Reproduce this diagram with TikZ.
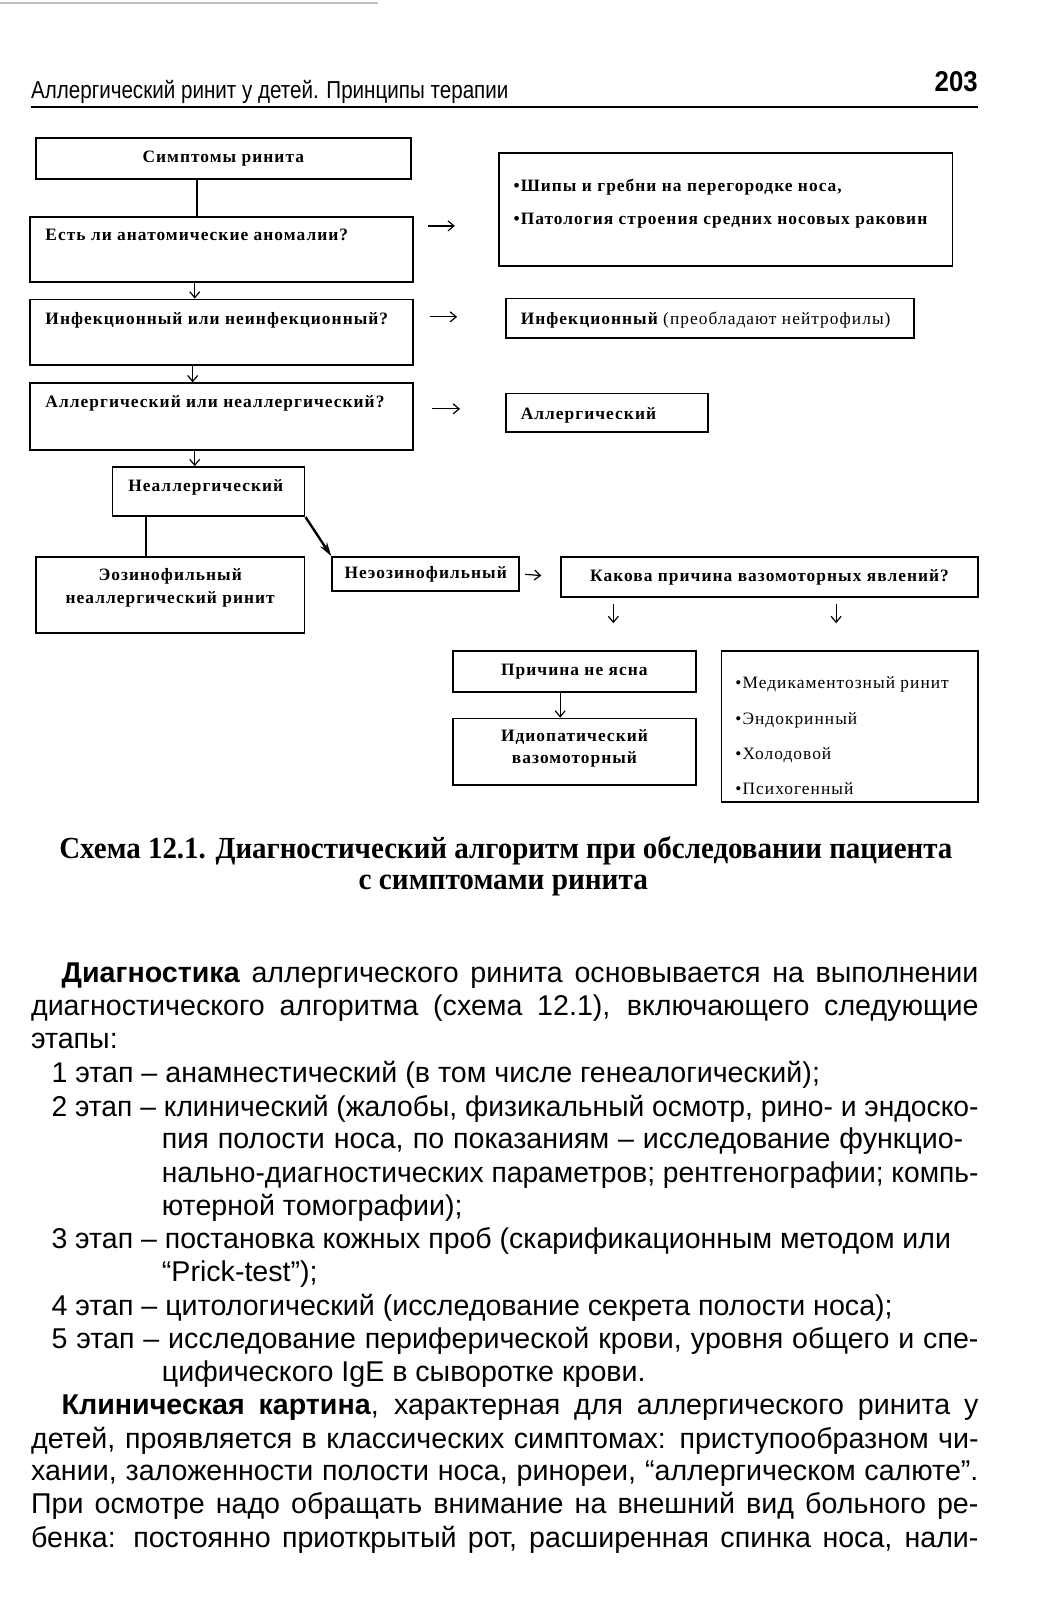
\documentclass[tikz,border=0pt]{standalone}
\usepackage{fontspec}
\usepackage{graphicx}
\setmainfont{Liberation Serif}
\newfontfamily\bodyfont{Liberation Sans}
\newfontfamily\boxfont[LetterSpace=6]{Liberation Serif}
\usetikzlibrary{arrows.meta, positioning}

% one justified line of the running text (squeezed if too long)
\newcommand{\jline}[2]{\setbox0=\hbox{#2}\ifdim\wd0>#1\relax\resizebox{#1}{\height}{\box0}\else\hbox to #1{\unhbox0}\fi}

\begin{document}
\begin{tikzpicture}[x=0.5pt, y=-0.5pt,
        >={Straight Barb[length=3pt, width=5pt]},
        box/.style={draw, line width=0.9pt, inner sep=0pt},
        txt/.style={font=\boxfont\bfseries\fontsize{8.5}{11}\selectfont, inner sep=0pt},
        reg/.style={font=\boxfont\fontsize{8.5}{11}\selectfont, inner sep=0pt},
        link/.style={line width=1.2pt},
        arr/.style={->, line width=0.6pt},
        diag/.style={-{Stealth[length=7pt, width=4pt]}, line width=1.2pt},
        hdr/.style={font=\bodyfont\fontsize{12}{14}\selectfont, inner sep=0pt},
        captxt/.style={font=\bfseries\fontsize{15}{18}\selectfont, inner sep=0pt, anchor=base},
        body/.style={font=\bodyfont\fontsize{14}{16}\selectfont, inner sep=0pt, anchor=base west}
    ]
    \useasboundingbox (0,0) rectangle (1060,1600);

    \begin{scope}[scale=1.022, transform shape]
    % running head
    \draw[gray!50, line width=1pt] (0,3) -- (370,3);
    \node[hdr, anchor=base west] (runhead) at (30,96) {\resizebox{233.5pt}{\height}{Аллергический ринит у детей. Принципы терапии}};
    \node[hdr, font=\bodyfont\bfseries\fontsize{14}{16}\selectfont, anchor=base east] (pagenum) at (957,90) {\resizebox{21pt}{\height}{203}};
    \draw[line width=1pt] (30,105) -- (957,105);

    % left column of questions
    \node[box, txt, minimum width=183.5pt, minimum height=20pt] (sympt) at (218.5,155) {Симптомы ринита};
    \node[box, minimum width=187.5pt, minimum height=32pt] (anat) at (216.5,244) {};
    \node[txt, anchor=base west] at ([xshift=8pt, yshift=-12pt]anat.north west) {Есть ли анатомические аномалии?};
    \node[box, minimum width=187.5pt, minimum height=32pt] (infq) at (216.5,325) {};
    \node[txt, anchor=base west] at ([xshift=8pt, yshift=-12.5pt]infq.north west) {Инфекционный или неинфекционный?};
    \node[box, minimum width=187.5pt, minimum height=32.5pt] (allq) at (216.5,407.5) {};
    \node[txt, anchor=base west] at ([xshift=8pt, yshift=-12.5pt]allq.north west) {Аллергический или неаллергический?};

    % answers on the right
    \node[box, minimum width=222pt, minimum height=55pt] (anom) at (710,205) {};
    \node[txt, anchor=base west, align=left] at ([xshift=7.5pt, yshift=-35.5pt]anom.north west)
        {\textbullet Шипы и гребни на перегородке носа,\\[5.5pt]\textbullet Патология строения средних носовых раковин};
    \node[box, minimum width=199.5pt, minimum height=19.5pt] (infa) at (694.5,311.5) {};
    \node[txt, anchor=base west] at ([xshift=7.5pt, yshift=-3pt]infa.west) {Инфекционный \mdseries(преобладают нейтрофилы)};
    \node[box, minimum width=99pt, minimum height=19pt] (alla) at (594,404) {};
    \node[txt, anchor=base west] at ([xshift=7.5pt, yshift=-3pt]alla.west) {Аллергический};

    % lower part
    \node[box, minimum width=94pt, minimum height=24pt] (nonall) at (204,481) {};
    \node[txt, anchor=base west] at ([xshift=8pt, yshift=-12.5pt]nonall.north west) {Неаллергический};
    \node[box, minimum width=131.5pt, minimum height=37pt] (eos) at (166.5,582) {};
    \node[txt, anchor=base, align=center] at ([yshift=-23pt]eos.north) {Эозинофильный\\неаллергический ринит};
    \node[box, txt, minimum width=91.5pt, minimum height=16.5pt] (noneos) at (416.5,561.5) {Неэозинофильный};
    \node[box, txt, minimum width=204pt, minimum height=19.5pt] (vaso) at (753,564.5) {Какова причина вазомоторных явлений?};
    \node[box, txt, minimum width=119pt, minimum height=20pt] (unkn) at (562,657) {Причина не ясна};
    \node[box, minimum width=119pt, minimum height=32.5pt] (idio) at (562,735.5) {};
    \node[txt, anchor=base, align=center] at ([yshift=-22.5pt]idio.north) {Идиопатический\\вазомоторный};
    \node[box, minimum width=125.5pt, minimum height=74pt] (causes) at (831.5,711) {};
    \node[reg, anchor=base west, align=left] at ([xshift=7pt, yshift=-70.5pt]causes.north west)
        {\textbullet Медикаментозный ринит\\[6.2pt]\textbullet Эндокринный\\[6.2pt]\textbullet Холодовой\\[6.2pt]\textbullet Психогенный};

    % connectors
    \draw[link] ([xshift=-12.75pt]sympt.south) -- ([xshift=-12.75pt]sympt.south |- anat.north);
    \draw[arr] ([xshift=-13pt]anat.south) -- ([xshift=-13pt]anat.south |- infq.north);
    \draw[arr] ([xshift=-14pt]infq.south) -- ([xshift=-14pt]infq.south |- allq.north);
    \draw[arr] ([xshift=-13pt]allq.south) -- ([xshift=-13pt]allq.south |- nonall.north);
    \draw[arr, shorten <=7pt, shorten >=21.5pt] ([yshift=11.5pt]anat.east) -- ([yshift=11.5pt]anat.east -| anom.west);
    \draw[arr, shorten <=8pt, shorten >=24pt] ([yshift=7.5pt]infq.east) -- ([yshift=7.5pt]infq.east -| infa.west);
    \draw[arr, shorten <=9pt, shorten >=22.5pt] ([yshift=3.75pt]allq.east) -- ([yshift=3.75pt]allq.east -| alla.west);
    \draw[link] ([xshift=-30.5pt]nonall.south) -- ([xshift=-30.5pt]nonall.south |- eos.north);
    \draw[diag] (nonall.south east) -- (noneos.north west);
    \draw[arr, shorten <=2.5pt, shorten >=9.5pt] (noneos.east) -- (vaso.west);
    \draw[arr, shorten <=3pt, shorten >=13.5pt] ([xshift=-76.5pt]vaso.south) -- ([xshift=-76.5pt]vaso.south |- unkn.north);
    \draw[arr, shorten <=3pt, shorten >=13.5pt] ([xshift=32.5pt]vaso.south) -- ([xshift=32.5pt]vaso.south |- causes.north);
    \draw[arr] ([xshift=-7pt]unkn.south) -- ([xshift=-7pt]unkn.south |- idio.north);

    % caption
    \node[captxt] (cap1) at (495,840) {\resizebox{437pt}{\height}{Схема 12.1. Диагностический алгоритм при обследовании пациента}};
    \node[captxt] (cap2) at (492.5,870) {\resizebox{141.5pt}{\height}{с симптомами ринита}};

    % running text
    \node[body] (l1) at (60,961) {\jline{448.5pt}{\textbf{Диагностика} аллергического ринита основывается на выполнении}};
    \node[body] (l2) at (30,994) {\jline{463.5pt}{диагностического алгоритма (схема 12.1), включающего следующие}};
    \node[body] (l3) at (30,1026) {этапы:};
    \node[body] (l4) at (50,1059) {1 этап – анамнестический (в том числе генеалогический);};
    \node[body] (l5) at (50,1092) {\jline{453.5pt}{2 этап – клинический (жалобы, физикальный осмотр, рино- и эндоско-}};
    \node[body] (l6) at (158,1124) {\jline{392pt}{пия полости носа, по показаниям – исследование функцио-}};
    \node[body] (l7) at (158,1157) {\jline{399.5pt}{нально-диагностических параметров; рентгенографии; компь-}};
    \node[body] (l8) at (158,1189) {ютерной томографии);};
    \node[body] (l9) at (50,1222) {\jline{440pt}{3 этап – постановка кожных проб (скарификационным методом или}};
    \node[body] (l10) at (158,1254) {“Prick-test”);};
    \node[body] (l11) at (50,1287) {4 этап – цитологический (исследование секрета полости носа);};
    \node[body] (l12) at (50,1319) {\jline{453.5pt}{5 этап – исследование периферической крови, уровня общего и спе-}};
    \node[body] (l13) at (158,1352) {цифического IgE в сыворотке крови.};
    \node[body] (l14) at (60,1384) {\jline{448.5pt}{\textbf{Клиническая картина}, характерная для аллергического ринита у}};
    \node[body] (l15) at (30,1417) {\jline{463.5pt}{детей, проявляется в классических симптомах: приступообразном чи-}};
    \node[body] (l16) at (30,1449) {\jline{463.5pt}{хании, заложенности полости носа, ринореи, “аллергическом салюте”.}};
    \node[body] (l17) at (30,1481) {\jline{463.5pt}{При осмотре надо обращать внимание на внешний вид больного ре-}};
    \node[body] (l18) at (30,1514) {\jline{463.5pt}{бенка: постоянно приоткрытый рот, расширенная спинка носа, нали-}};
    \end{scope}
\end{tikzpicture}
\end{document}
